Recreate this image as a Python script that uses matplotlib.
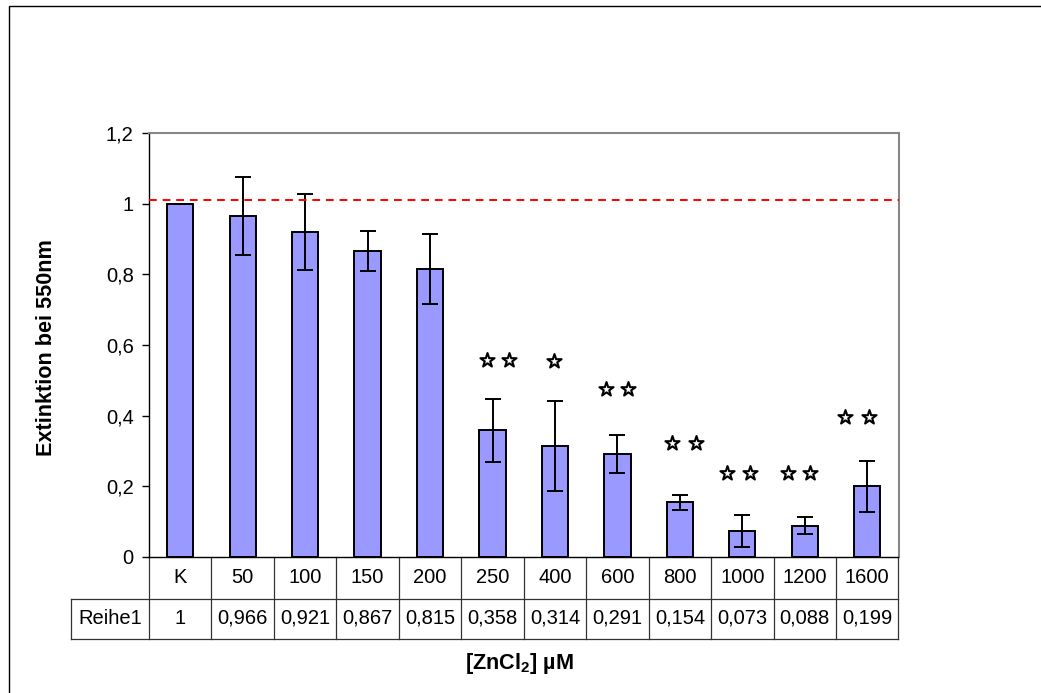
import matplotlib
matplotlib.use("Agg")
import matplotlib.pyplot as plt
from matplotlib.patches import Rectangle
from matplotlib.lines import Line2D
import matplotlib.transforms as mtransforms

plt.rcParams['font.family'] = ['Liberation Sans', 'DejaVu Sans']
plt.rcParams['mathtext.fontset'] = 'custom'
plt.rcParams['mathtext.rm'] = 'Liberation Sans'
plt.rcParams['mathtext.bf'] = 'Liberation Sans:bold'

# ---- data ----
categories = ["K", "50", "100", "150", "200", "250", "400", "600", "800", "1000", "1200", "1600"]
values = [1.0, 0.966, 0.921, 0.867, 0.815, 0.358, 0.314, 0.291, 0.154, 0.073, 0.088, 0.199]
value_labels = ["1", "0,966", "0,921", "0,867", "0,815", "0,358", "0,314", "0,291", "0,154", "0,073", "0,088", "0,199"]
errors = [0.0, 0.11, 0.108, 0.056, 0.10, 0.09, 0.127, 0.055, 0.022, 0.045, 0.025, 0.071]
series_name = "Reihe1"
reference_line = 1.011
star_x = [4.91, 5.26, 5.98, 6.82, 7.17, 7.87, 8.25, 8.76, 9.12, 9.73, 10.09, 10.64, 11.03]
star_y = [0.558, 0.558, 0.555, 0.476, 0.476, 0.323, 0.323, 0.238, 0.238, 0.238, 0.238, 0.396, 0.396]
yticks = [0, 0.2, 0.4, 0.6, 0.8, 1.0, 1.2]
ytick_labels = ["0", "0,2", "0,4", "0,6", "0,8", "1", "1,2"]

FS = 14.5
FS_LABEL = 15.6

W, H = 1041, 693
fig = plt.figure(figsize=(W / 100, H / 100), dpi=100)
fig.patch.set_facecolor("white")

# outer border (left and top visible)
fig.add_artist(Rectangle((9 / W, -0.05), 1.2, 1 - 6 / H + 0.05, transform=fig.transFigure,
                         fill=False, edgecolor="black", lw=1.0))

left, right, top, bottom = 149, 898.5, 133.3, 556.7
ax = fig.add_axes([left / W, 1 - bottom / H, (right - left) / W, (bottom - top) / H])

x = list(range(len(categories)))
ax.bar(x, values, width=0.42, color="#9999FF", edgecolor="black", linewidth=1.4, zorder=2)
ax.errorbar(x, values, yerr=errors, fmt="none", ecolor="black", elinewidth=1.4,
            capsize=5.8, capthick=1.4, zorder=3)
ax.axhline(reference_line, color="#FF0000", lw=1.4, ls=(0, (4, 3)), zorder=4)
ax.scatter(star_x, star_y, marker="*", s=115, facecolor="white", edgecolor="black",
           linewidths=1.5, zorder=5)

ax.set_xlim(-0.5, len(categories) - 0.5)
ax.set_ylim(0, 1.2)
ax.set_yticks(yticks)
ax.set_yticklabels(ytick_labels, fontsize=FS)
ax.set_xticks([])
ax.tick_params(axis="y", direction="out", length=5, width=1, color="black", pad=6)

for s in ["top", "right"]:
    ax.spines[s].set_color("#888888")
    ax.spines[s].set_linewidth(1.5)
for s in ["left", "bottom"]:
    ax.spines[s].set_color("black")
    ax.spines[s].set_linewidth(1.0)

# ---- data table below axis ----
px = bottom - top
row1 = -(598.5 - bottom) / px
row2 = -(638.5 - bottom) / px
label_left = -0.5 + (71 - left) / ((right - left) / len(categories))
trans = mtransforms.blended_transform_factory(ax.transData, ax.transAxes)
lc = "#333333"
lw = 0.9
ax.add_line(Line2D([label_left, len(categories) - 0.5], [row1, row1], transform=trans, color=lc, lw=lw, clip_on=False))
ax.add_line(Line2D([label_left, len(categories) - 0.5], [row2, row2], transform=trans, color=lc, lw=lw, clip_on=False))
for i in range(len(categories) + 1):
    xv = i - 0.5
    ax.add_line(Line2D([xv, xv], [0, row2], transform=trans, color=lc, lw=lw, clip_on=False))
ax.add_line(Line2D([label_left, label_left], [row1, row2], transform=trans, color=lc, lw=lw, clip_on=False))

for i, (c, v) in enumerate(zip(categories, value_labels)):
    ax.text(i, row1 / 2, c, transform=trans, ha="center", va="center", fontsize=FS, clip_on=False)
    ax.text(i, (row1 + row2) / 2, v, transform=trans, ha="center", va="center", fontsize=FS, clip_on=False)
ax.text((label_left - 0.5) / 2, (row1 + row2) / 2, series_name, transform=trans,
        ha="center", va="center", fontsize=FS, clip_on=False)

fig.text(519.5 / W, 1 - 664 / H, r"[ZnCl$_\mathbf{2}$] µM", ha="center", va="center",
         fontsize=FS_LABEL, fontweight="bold")
fig.text(46.5 / W, 1 - 348 / H, "Extinktion bei 550nm", ha="center", va="center",
         rotation=90, fontsize=FS_LABEL, fontweight="bold")

fig.savefig("out.png", dpi=100)
